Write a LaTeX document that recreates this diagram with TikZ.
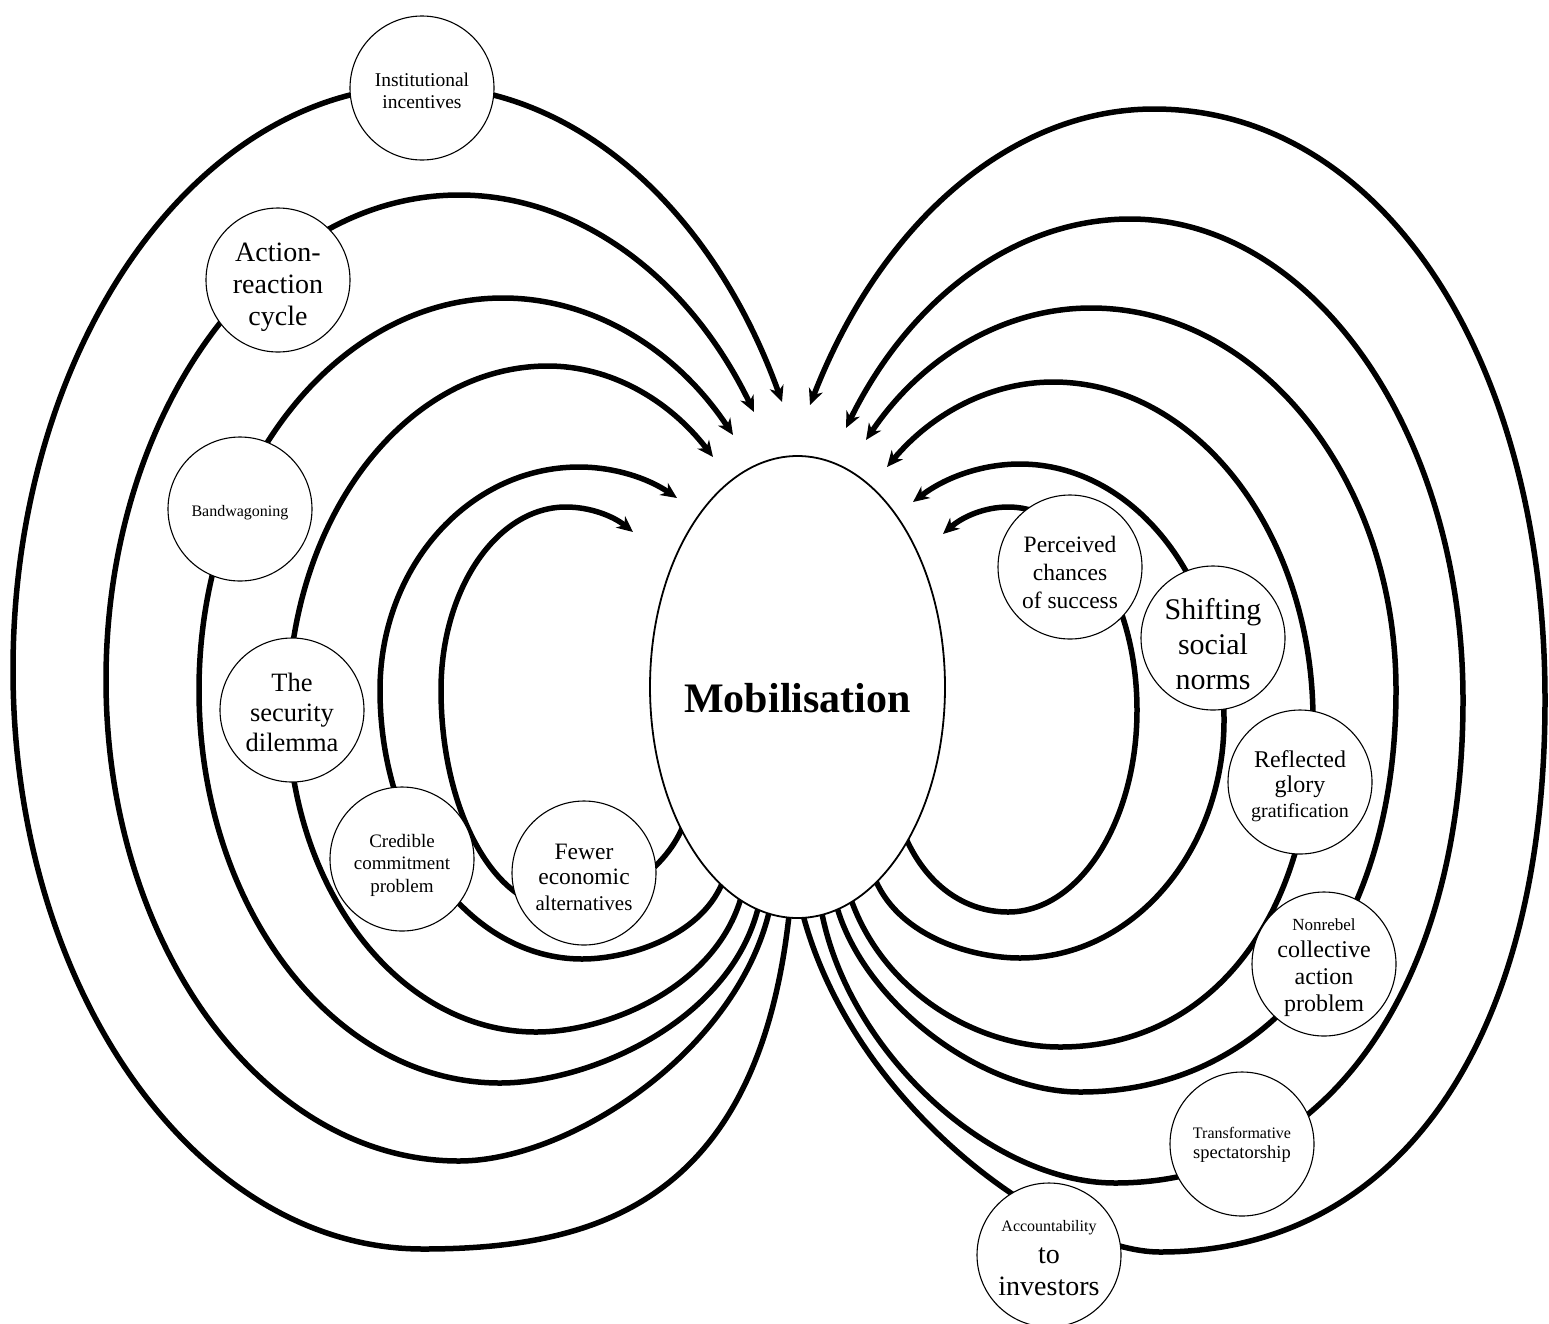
\documentclass[tikz,border=0pt]{standalone}
\usepackage{fontspec}
\setmainfont{Liberation Serif}
\usetikzlibrary{arrows.meta,calc,shapes.geometric}
\pgfdeclarelayer{bg}
\pgfsetlayers{bg,main}
\newcommand\fsz[2]{\fontsize{#1}{#2}\selectfont}
\begin{document}
\begin{tikzpicture}[x=1pt,y=-1pt,
  bubble/.style={circle, draw, line width=1.1pt, fill=white, minimum size=144pt, inner sep=0pt, outer sep=0pt},
  btxt/.style={align=center, inner sep=0pt},
  hub/.style={ellipse, draw, line width=1.8pt, fill=white, minimum width=295pt, minimum height=462pt, inner sep=0pt, outer sep=0pt},
  conn/.style={line width=5.5pt, -{Stealth[length=16pt,width=14.5pt,inset=5pt]}}]
\useasboundingbox (0,0) rectangle (1549,1323);
\clip (0,0) rectangle (1549,1323);

% central node
\node[hub] (mob) at (797.5,687) {};
\node[btxt, font=\bfseries\fsz{42}{48}] (mobt) at ([yshift=-11pt]mob.center) {Mobilisation};

% circles
\node[bubble] (inst) at (422,88) {};
\node[bubble] (act) at (278,280) {};
\node[bubble] (band) at (240,509) {};
\node[bubble] (sec) at (292,710) {};
\node[bubble] (cred) at (402,859) {};
\node[bubble] (fewer) at (584,873) {};
\node[bubble] (perc) at (1070,567) {};
\node[bubble] (shift) at (1213,638) {};
\node[bubble] (refl) at (1300,782) {};
\node[bubble] (nonreb) at (1324,964) {};
\node[bubble] (trans) at (1242,1144) {};
\node[bubble] (acc) at (1049,1255) {};

% circle texts
\node[btxt, font=\fsz{19.5}{21.5}] (instt) at ([yshift=-3pt]inst.center) {Institutional\\incentives};
\node[btxt, font=\fsz{28}{32}] (actt) at ([yshift=-7pt]act.center) {Action-\\reaction\\cycle};
\node[btxt, font=\fsz{16}{18}] (bandt) at ([yshift=-4pt]band.center) {Bandwagoning};
\node[btxt, font=\fsz{26.5}{30}] (sect) at ([yshift=-2pt]sec.center) {The\\security\\dilemma};
\node[btxt, font=\fsz{19}{22.5}] (credt) at ([yshift=-6pt]cred.center) {Credible\\commitment\\problem};
\node[btxt, font=\fsz{23.5}{25.5}] (fewert) at ([yshift=-4pt]fewer.center) {Fewer\\economic\\{\fsz{21}{21}alternatives}};
\node[btxt, font=\fsz{23.5}{28}] (perct) at ([yshift=-5pt]perc.center) {Perceived\\chances\\of success};
\node[btxt, font=\fsz{30}{35}] (shiftt) at ([yshift=-6pt]shift.center) {Shifting\\social\\norms};
\node[btxt, font=\fsz{24}{25}] (reflt) at ([yshift=-4pt]refl.center) {Reflected\\glory\\{\fsz{20}{20}gratification}};
\node[btxt, font=\fsz{24}{27}] (nonrebt) at ([yshift=-4pt]nonreb.center) {{\fsz{17}{17}Nonrebel}\\collective\\action\\problem};
\node[btxt, font=\fsz{18.5}{19.5}] (transt) at ([yshift=-1pt]trans.center) {{\fsz{16}{16}Transformative}\\spectatorship};
\node[btxt, font=\fsz{28}{32}] (acct) at ([yshift=-3pt]acc.center) {{\fsz{16}{16}Accountability}\\to\\investors};

% start points (just inside the central ellipse)
\coordinate (sL1) at ($(mob.center)!0.96!(mob.230)$);
\coordinate (sL2) at ($(mob.center)!0.96!(mob.249)$);
\coordinate (sL3) at ($(mob.center)!0.96!(mob.255)$);
\coordinate (sL4) at ($(mob.center)!0.96!(mob.260)$);
\coordinate (sL5) at ($(mob.center)!0.96!(mob.263)$);
\coordinate (sL6) at ($(mob.center)!0.96!(mob.268)$);
\coordinate (sR6) at ($(mob.center)!0.96!(mob.271)$);
\coordinate (sR5) at ($(mob.center)!0.96!(mob.276)$);
\coordinate (sR4) at ($(mob.center)!0.96!(mob.280)$);
\coordinate (sR3) at ($(mob.center)!0.96!(mob.284)$);
\coordinate (sR2) at ($(mob.center)!0.96!(mob.292)$);
\coordinate (sR1) at ($(mob.center)!0.96!(mob.306)$);
% arrow tips
\coordinate (tL1) at (633,532);
\coordinate (tL2) at (677,498);
\coordinate (tL3) at (713,457);
\coordinate (tL4) at (733,435);
\coordinate (tL5) at (754,412);
\coordinate (tL6) at (782,402);
\coordinate (tR6) at (810,405);
\coordinate (tR5) at (846,428);
\coordinate (tR4) at (866,440);
\coordinate (tR3) at (887,467);
\coordinate (tR2) at (913,502);
\coordinate (tR1) at (943,534);

\begin{pgfonlayer}{bg}
\fill[white] (0,0) rectangle (1549,1323);
% left loops
\draw[conn] (sL1) .. controls (668,870) and (610,908) .. (560,908)
  .. controls (494.3,908) and (441,810.4) .. (441,690)
  .. controls (441,588.9) and (497,507) .. (566,507)
  .. controls (589.5,507) and (612.7,515.6) .. (tL1);
\draw[conn] (sL2) .. controls (705,935) and (630,959) .. (582,959)
  .. controls (470.4,959) and (380,838.6) .. (380,690)
  .. controls (380,566.8) and (469.1,467) .. (579,467)
  .. controls (613.5,467) and (647.3,477.7) .. (tL2);
\draw[conn] (sL3) .. controls (720,985) and (610,1032) .. (536,1032)
  .. controls (399,1032) and (288,887.8) .. (288,710)
  .. controls (288,520) and (404.4,366) .. (548,366)
  .. controls (609.1,366) and (668.1,398.5) .. (tL3);
\draw[conn] (sL4) .. controls (735,1020) and (590,1083) .. (500,1083)
  .. controls (333.8,1083) and (199,907) .. (199,690)
  .. controls (199,473.5) and (335.1,298) .. (503,298)
  .. controls (591.4,298) and (675.5,348.1) .. (tL4);
\draw[conn] (sL5) .. controls (740,1050) and (570,1161) .. (459,1161)
  .. controls (264,1161) and (106,945.7) .. (106,680)
  .. controls (106,412.1) and (264,195) .. (459,195)
  .. controls (577.5,195) and (688.3,276) .. (tL5);
\draw[conn] (sL6) .. controls (760,1200) and (600,1249) .. (423,1249)
  .. controls (196.6,1249) and (13,989.8) .. (13,670)
  .. controls (13,347.5) and (196.1,86) .. (422,86)
  .. controls (573.9,86) and (712.2,207.6) .. (tL6);
% right loops
\draw[conn] (sR1) .. controls (925,885) and (965,912) .. (1008,912)
  .. controls (1079.2,912) and (1137,821.6) .. (1137,710)
  .. controls (1137,597.9) and (1079.2,507) .. (1008,507)
  .. controls (985.2,507) and (962.8,516.3) .. (tR1);
\draw[conn] (sR2) .. controls (895,935) and (970,958) .. (1020,958)
  .. controls (1132.7,958) and (1224,851.4) .. (1224,720)
  .. controls (1224,578.6) and (1132.7,464) .. (1020,464)
  .. controls (982.2,464) and (945.2,477.2) .. (tR2);
\draw[conn] (sR3) .. controls (880,990) and (975,1047) .. (1060,1047)
  .. controls (1211.8,1047) and (1313,916.2) .. (1313,720)
  .. controls (1313,533.3) and (1196.6,382) .. (1053,382)
  .. controls (991.9,382) and (932.7,412.3) .. (tR3);
\draw[conn] (sR4) .. controls (860,1000) and (980,1092) .. (1080,1092)
  .. controls (1269.6,1092) and (1396,931.2) .. (1396,690)
  .. controls (1396,479) and (1259.4,308) .. (1091,308)
  .. controls (1004.7,308) and (922.5,356.2) .. (tR4);
\draw[conn] (sR5) .. controls (845,1050) and (990,1183) .. (1115,1183)
  .. controls (1323.8,1183) and (1463,989.8) .. (1463,700)
  .. controls (1463,434.3) and (1313.9,219) .. (1130,219)
  .. controls (1016.4,219) and (910.3,297.1) .. (tR5);
\draw[conn] (sR6) .. controls (852,1110) and (1060,1252) .. (1160,1252)
  .. controls (1398.7,1252) and (1545,1041) .. (1545,700)
  .. controls (1545,357.2) and (1380.8,109) .. (1154,109)
  .. controls (1012,109) and (880.9,221.9) .. (tR6);
\end{pgfonlayer}
\end{tikzpicture}
\end{document}
